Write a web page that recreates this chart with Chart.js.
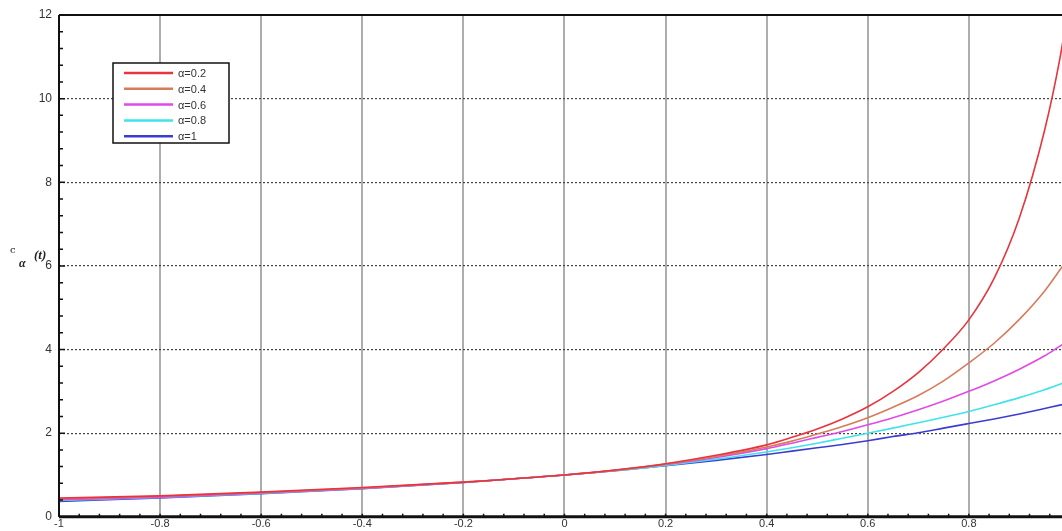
<!DOCTYPE html>
<html>
<head>
<meta charset="utf-8">
<script src="https://cdn.jsdelivr.net/npm/chart.js@4"></script>
<style>
  html, body { margin: 0; padding: 0; background: #fff; overflow: hidden; }
  #wrap { width: 1074px; height: 531px; position: relative; }
</style>
</head>
<body>
<div id="wrap"><canvas id="chart"></canvas></div>
<script>
// t values (x axis) and the five curves
const tValues = [-1, -0.8, -0.6, -0.4, -0.2, 0, 0.1, 0.2, 0.3, 0.4, 0.45, 0.5, 0.55, 0.6, 0.65, 0.7, 0.75, 0.8, 0.85, 0.9, 0.95, 0.98, 1.0];
const alpha02 = [0.45, 0.50, 0.59, 0.70, 0.83, 1.0, 1.12, 1.27, 1.47, 1.72, 1.90, 2.10, 2.34, 2.63, 3.00, 3.45, 4.02, 4.71, 5.70, 7.15, 9.25, 10.95, 12.4];
const alpha04 = [0.43, 0.49, 0.58, 0.69, 0.83, 1.0, 1.11, 1.26, 1.44, 1.67, 1.81, 1.98, 2.16, 2.37, 2.62, 2.90, 3.25, 3.68, 4.15, 4.72, 5.40, 5.90, 6.25];
const alpha06 = [0.41, 0.47, 0.57, 0.68, 0.82, 1.0, 1.11, 1.25, 1.42, 1.63, 1.76, 1.90, 2.04, 2.20, 2.37, 2.56, 2.77, 3.00, 3.25, 3.53, 3.85, 4.08, 4.23];
const alpha08 = [0.39, 0.46, 0.56, 0.68, 0.82, 1.0, 1.10, 1.23, 1.38, 1.55, 1.65, 1.76, 1.88, 2.00, 2.12, 2.25, 2.38, 2.52, 2.68, 2.85, 3.04, 3.17, 3.26];
const alpha10 = [0.37, 0.45, 0.55, 0.67, 0.82, 1.0, 1.10, 1.22, 1.35, 1.49, 1.57, 1.65, 1.73, 1.82, 1.92, 2.01, 2.12, 2.23, 2.34, 2.46, 2.59, 2.67, 2.72];
const seriesLabels = ['\u03b1=0.2', '\u03b1=0.4', '\u03b1=0.6', '\u03b1=0.8', '\u03b1=1'];
const seriesColors = ['#e8343c', '#d97a5c', '#e04ae6', '#3fe3ea', '#3c3cd2'];
const xTicks = [-1, -0.8, -0.6, -0.4, -0.2, 0, 0.2, 0.4, 0.6, 0.8, 1];
const yTicks = [0, 2, 4, 6, 8, 10, 12];

const allSeries = [alpha02, alpha04, alpha06, alpha08, alpha10];

function pts(arr) {
  return tValues.map((t, i) => ({ x: t, y: arr[i] }));
}

// frame, minor ticks, y label and boxed legend
const extras = {
  id: 'extras',
  afterDraw(chart) {
    const ctx = chart.ctx;
    const a = chart.chartArea;
    const xs = chart.scales.x, ys = chart.scales.y;
    ctx.save();
    ctx.strokeStyle = '#111';
    ctx.lineWidth = 2;
    ctx.beginPath();
    ctx.moveTo(a.left, a.top); ctx.lineTo(a.right, a.top);
    ctx.moveTo(a.left, a.top); ctx.lineTo(a.left, a.bottom);
    ctx.stroke();
    ctx.lineWidth = 3;
    ctx.beginPath();
    ctx.moveTo(a.left, a.bottom); ctx.lineTo(a.right, a.bottom);
    ctx.stroke();

    // minor ticks on the y axis
    ctx.lineWidth = 1.5;
    ctx.beginPath();
    for (let v = 0; v <= 12.001; v += 0.4) {
      const y = ys.getPixelForValue(v);
      const major = Math.abs(v / 2 - Math.round(v / 2)) < 0.01;
      ctx.moveTo(a.left, y); ctx.lineTo(a.left + (major ? 6 : 4), y);
    }
    // minor ticks on the x axis
    for (let v = -1; v <= 1.001; v += 0.04) {
      const x = xs.getPixelForValue(v);
      ctx.moveTo(x, a.bottom); ctx.lineTo(x, a.bottom - 3);
    }
    ctx.stroke();

    // y axis label
    ctx.fillStyle = '#222';
    ctx.textBaseline = 'middle';
    ctx.font = '10px "DejaVu Serif"';
    ctx.fillText('c', 10, 250);
    ctx.font = 'bold italic 12px "Liberation Serif"';
    ctx.fillText('\u03b1', 19, 264);
    ctx.font = 'italic bold 13px "Liberation Serif"';
    ctx.fillText('(t)', 34, 256);

    // legend box
    const bx = 113, by = 63, bw = 116, bh = 80;
    ctx.fillStyle = '#fff';
    ctx.fillRect(bx, by, bw, bh);
    ctx.strokeStyle = '#111';
    ctx.lineWidth = 1.5;
    ctx.strokeRect(bx, by, bw, bh);
    ctx.font = '11px "Liberation Sans"';
    chart.data.datasets.forEach((ds, i) => {
      const y = by + 10 + i * 15.8;
      ctx.strokeStyle = ds.borderColor;
      ctx.lineWidth = 2.5;
      ctx.beginPath();
      ctx.moveTo(bx + 11, y); ctx.lineTo(bx + 60, y);
      ctx.stroke();
      ctx.fillStyle = '#333';
      ctx.fillText(ds.label, bx + 65, y + 1);
    });
    ctx.restore();
  }
};

new Chart(document.getElementById('chart'), {
  type: 'line',
  data: {
    datasets: allSeries.map((arr, i) => ({
      label: seriesLabels[i],
      data: pts(arr),
      borderColor: seriesColors[i],
      backgroundColor: seriesColors[i],
      borderWidth: 1.6,
      pointRadius: 0,
      cubicInterpolationMode: 'monotone',
      fill: false
    }))
  },
  options: {
    responsive: true,
    maintainAspectRatio: false,
    animation: false,
    layout: { padding: { top: 15, right: 2, left: 0, bottom: 0 } },
    plugins: {
      legend: { display: false },
      tooltip: { enabled: false }
    },
    scales: {
      x: {
        type: 'linear',
        min: -1,
        max: 1,
        afterBuildTicks(scale) { scale.ticks = xTicks.map(v => ({ value: v })); },
        afterFit(scale) { scale.height = 14; },
        border: { display: false },
        grid: { color: '#adadad', lineWidth: 2, drawTicks: false },
        ticks: {
          padding: 1,
          color: '#333',
          font: { family: 'Liberation Sans', size: 11 },
          maxRotation: 0,
          callback: v => String(Math.round(v * 10) / 10)
        }
      },
      y: {
        type: 'linear',
        min: 0,
        max: 12,
        afterBuildTicks(scale) { scale.ticks = yTicks.map(v => ({ value: v })); },
        afterFit(scale) { scale.width = 59; },
        border: { display: false, dash: [2, 2] },
        grid: { color: '#444', lineWidth: 1.2, drawTicks: false },
        ticks: {
          padding: 7,
          color: '#333',
          font: { family: 'Liberation Sans', size: 12 }
        }
      }
    }
  },
  plugins: [extras]
});
</script>
</body>
</html>
